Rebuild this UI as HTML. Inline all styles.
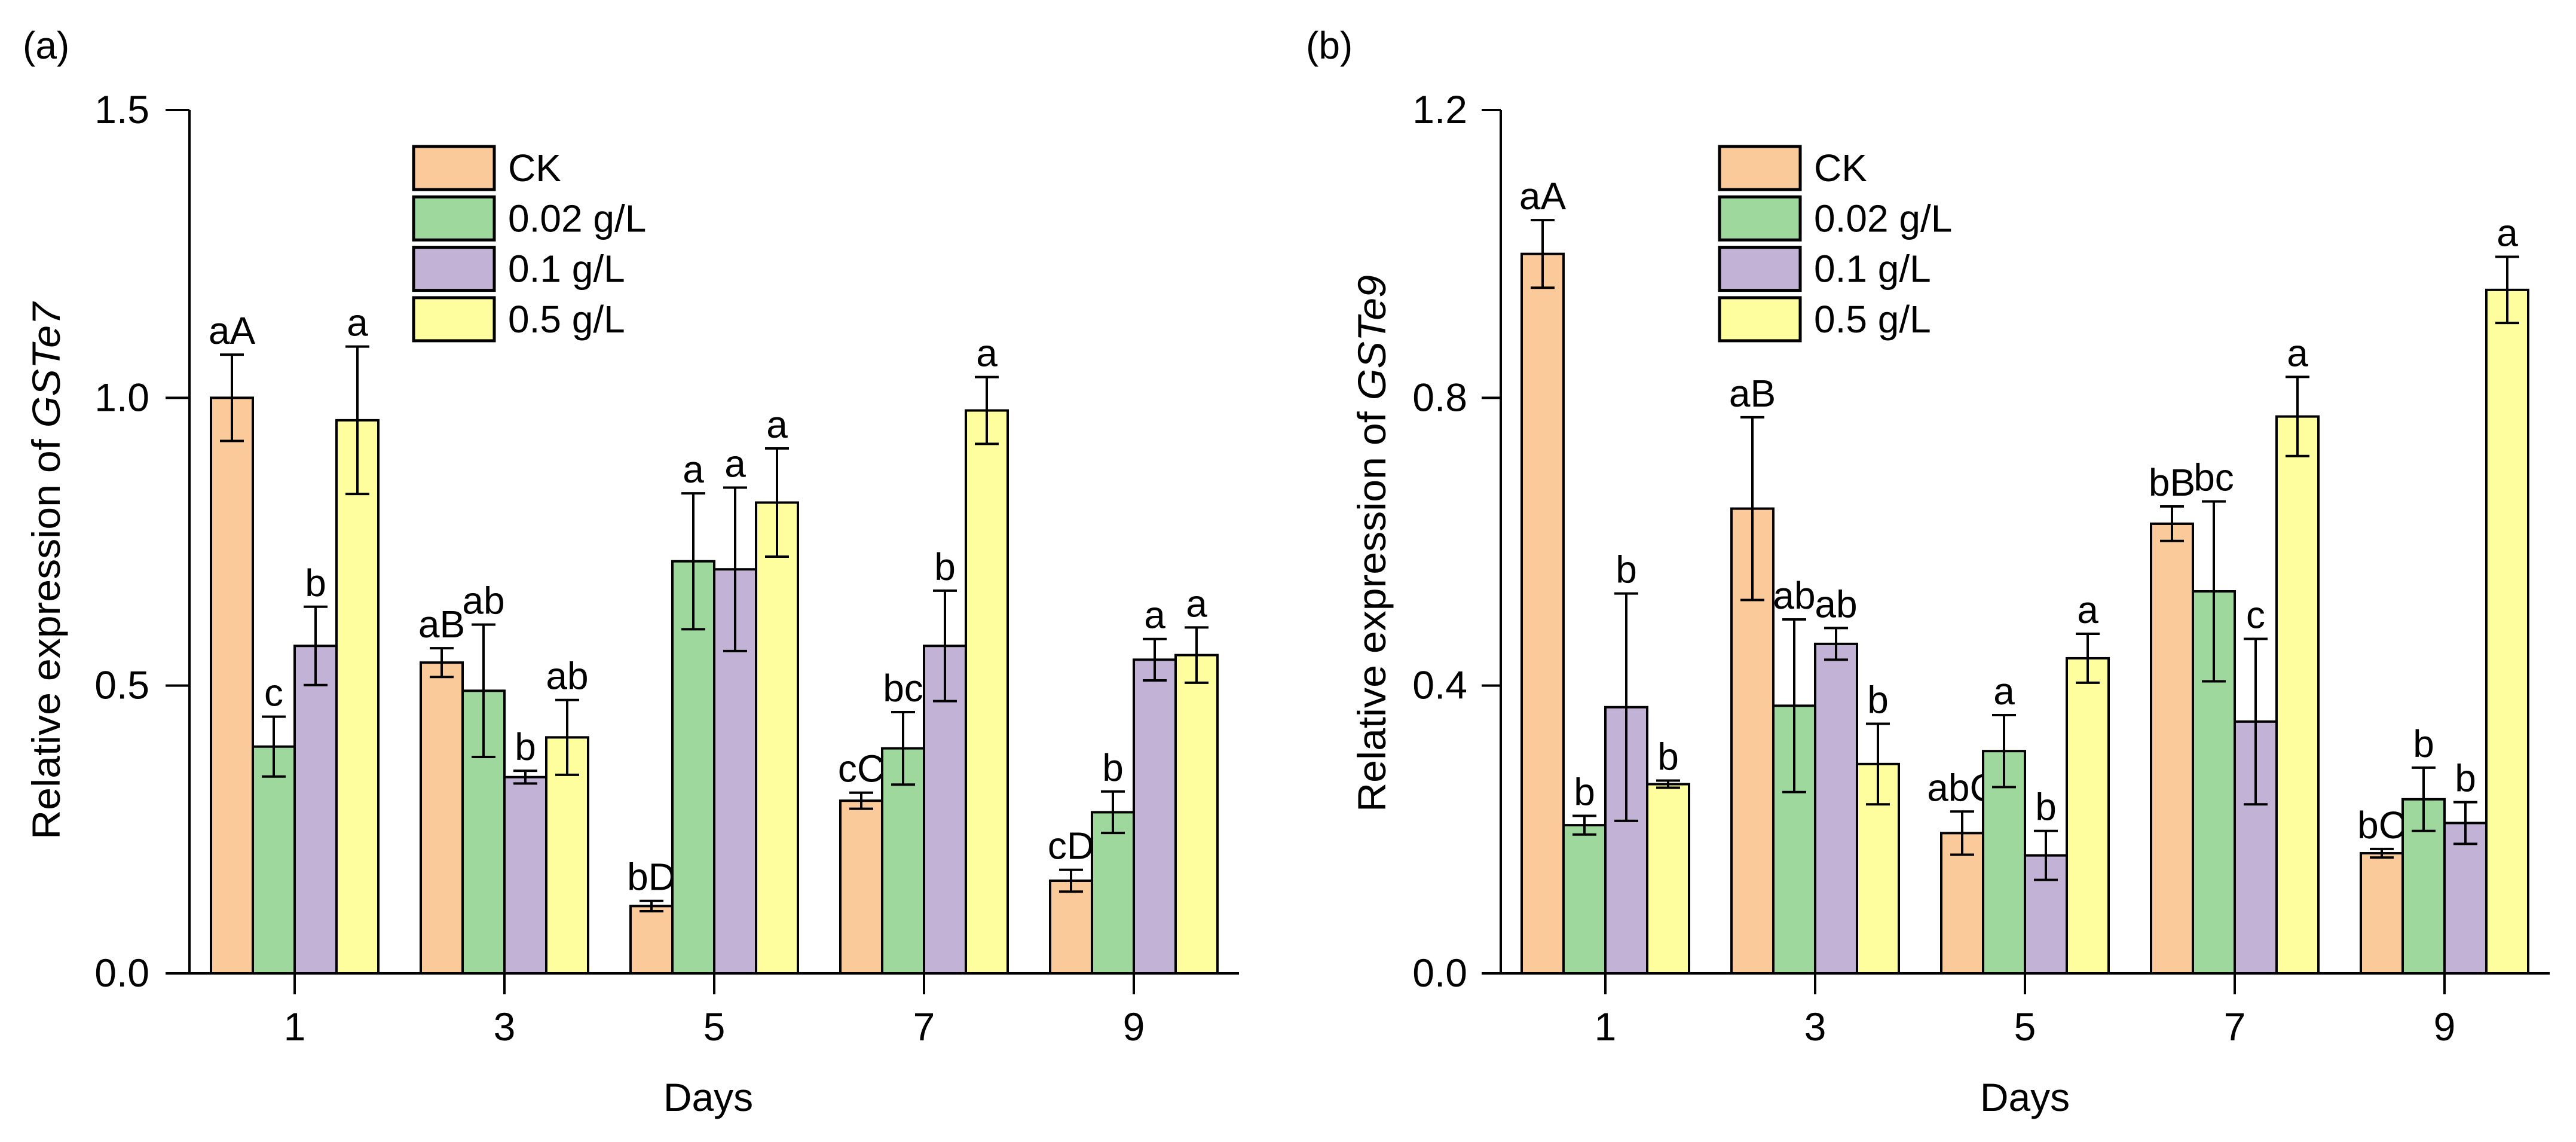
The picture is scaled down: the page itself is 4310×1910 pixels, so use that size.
<!DOCTYPE html>
<html><head><meta charset="utf-8"><style>
html,body{margin:0;padding:0;background:#fff;}
svg{display:block;font-family:"Liberation Sans",Arial,sans-serif;}
</style></head><body>
<svg id="chart" width="4310" height="1910" viewBox="0 0 4310 1910" xmlns="http://www.w3.org/2000/svg"></svg>
<script>
const days = ["1","3","5","7","9"];
const seriesNames = ["CK","0.02 g/L","0.1 g/L","0.5 g/L"];
const colors = ["#FBCA9A","#9FD89D","#C2B3D6","#FFFE9E"];
// Panel a: GSTe7
const aCK = [1.000,0.540,0.117,0.300,0.161];
const aG = [0.394,0.491,0.716,0.391,0.280];
const aP = [0.569,0.341,0.702,0.569,0.545];
const aY = [0.961,0.410,0.818,0.978,0.553];
const aCKe = [0.075,0.025,0.009,0.014,0.019];
const aGe = [0.052,0.115,0.118,0.063,0.036];
const aPe = [0.068,0.011,0.142,0.096,0.036];
const aYe = [0.128,0.065,0.094,0.058,0.048];
const aLabCK = ["aA","aB","bD","cC","cD"];
const aLabG = ["c","ab","a","bc","b"];
const aLabP = ["b","b","a","b","a"];
const aLabY = ["a","ab","a","a","a"];
const aTicks = ["0.0","0.5","1.0","1.5"];
const aTickVals = [0,0.5,1.0,1.5];
// Panel b: GSTe9
const bCK = [1.000,0.646,0.195,0.625,0.167];
const bG = [0.206,0.372,0.309,0.531,0.242];
const bP = [0.370,0.458,0.164,0.350,0.209];
const bY = [0.263,0.291,0.438,0.774,0.950];
const bCKe = [0.047,0.127,0.030,0.024,0.006];
const bGe = [0.013,0.120,0.050,0.125,0.044];
const bPe = [0.158,0.022,0.034,0.115,0.029];
const bYe = [0.005,0.056,0.034,0.055,0.046];
const bLabCK = ["aA","aB","abC","bB","bC"];
const bLabG = ["b","ab","a","bc","b"];
const bLabP = ["b","ab","b","c","b"];
const bLabY = ["b","b","a","a","a"];
const bTicks = ["0.0","0.4","0.8","1.2"];
const bTickVals = [0,0.4,0.8,1.2];

const NS="http://www.w3.org/2000/svg";
const svg=document.getElementById('chart');
function mk(tag,attrs,parent){const e=document.createElementNS(NS,tag);for(const k in attrs)e.setAttribute(k,attrs[k]);(parent||svg).appendChild(e);return e;}

function panel(o){
  const g=mk('g',{});
  
  
  const y=v=>o.y0-(v/o.ymax)*(o.y0-o.ytop);
  const bw=70;
  // bars
  const vals=[o.ck,o.g,o.p,o.yy], errs=[o.cke,o.ge,o.pe,o.ye], labs=[o.lck,o.lg,o.lp,o.ly];
  days.forEach((d,i)=>{
    const cx=o.x1+i*o.sp;
    for(let s=0;s<4;s++){
      const x=cx-2*bw+s*bw, v=vals[s][i], top=y(v);
      const r=mk('rect',{x:x,y:top,width:bw,height:o.y0-top,fill:colors[s],stroke:'#000','stroke-width':4},g);
      
      
      const ex=x+bw/2, et=y(v+errs[s][i]), eb=y(v-errs[s][i]);
      const eg=mk('path',{d:`M${ex} ${et}V${eb}M${ex-20} ${et}H${ex+20}M${ex-20} ${eb}H${ex+20}`,stroke:'#000','stroke-width':4,fill:'none'},g);
      
      
      const t=mk('text',{x:ex,y:et-18,'font-size':64,'text-anchor':'middle'},g);
      t.textContent=labs[s][i];
      
      
    }
    const tk=mk('line',{x1:cx,x2:cx,y1:o.y0,y2:o.y0+35,stroke:'#000','stroke-width':4},g);
    
    
    const tl=mk('text',{x:cx,y:1740,'font-size':66,'text-anchor':'middle'},g);
    tl.textContent=d;
    
    
  });
  // axes
  const ax=mk('path',{d:`M${o.ax} ${o.ytop}V${o.y0}H${o.xend}`,stroke:'#000','stroke-width':4,fill:'none'},g);
  
  
  o.tv.forEach((v,i)=>{
    const l=mk('line',{x1:o.ax-o.tl,x2:o.ax,y1:y(v),y2:y(v),stroke:'#000','stroke-width':4},g);
    
    
    const t=mk('text',{x:o.lblx,y:y(v)+22,'font-size':66,'text-anchor':'end'},g);
    t.textContent=o.tk[i];
    
    
  });
  // y title
  const yt=mk('text',{x:0,y:0,'font-size':66,'text-anchor':'middle',transform:`translate(${o.ytx},${o.yty}) rotate(-90)`,textLength:o.ytl,lengthAdjust:'spacingAndGlyphs'},g);
  yt.appendChild(document.createTextNode('Relative expression of '));
  const it=mk('tspan',{'font-style':'italic'},yt);it.textContent=o.gene;
  
  
  const xt=mk('text',{x:o.dx,y:1858,'font-size':66,'text-anchor':'middle'},g);
  xt.textContent='Days';
  
  
  const pl=mk('text',{x:o.plx,y:98,'font-size':64},g);
  pl.textContent=o.pl;
  
  
  // legend
  seriesNames.forEach((n,s)=>{
    const ly=245+s*84.3;
    const r=mk('rect',{x:o.lgx,y:ly,width:135,height:72,fill:colors[s],stroke:'#000','stroke-width':5},g);
    
    
    const t=mk('text',{x:o.lgx+158,y:ly+58,'font-size':64},g);
    t.textContent=n;
    
    
  });
}
panel({name:'panel-a',ck:aCK,g:aG,p:aP,yy:aY,cke:aCKe,ge:aGe,pe:aPe,ye:aYe,lck:aLabCK,lg:aLabG,lp:aLabP,ly:aLabY,
  tk:aTicks,tv:aTickVals,ymax:1.5,y0:1628,ytop:184,ax:317,xend:2073,x1:493,sp:351,tl:40,lblx:250,
  ytx:100,yty:955,ytl:898,gene:'GSTe7',dx:1185,plx:38,pl:'(a)',lgx:692});
panel({name:'panel-b',ck:bCK,g:bG,p:bP,yy:bY,cke:bCKe,ge:bGe,pe:bPe,ye:bYe,lck:bLabCK,lg:bLabG,lp:bLabP,ly:bLabY,
  tk:bTicks,tv:bTickVals,ymax:1.2,y0:1628,ytop:184,ax:2511,xend:4266,x1:2686,sp:351,tl:32,lblx:2455,
  ytx:2318,yty:909,ytl:898,gene:'GSTe9',dx:3388,plx:2185,pl:'(b)',lgx:2877});
</script>
</body></html>
